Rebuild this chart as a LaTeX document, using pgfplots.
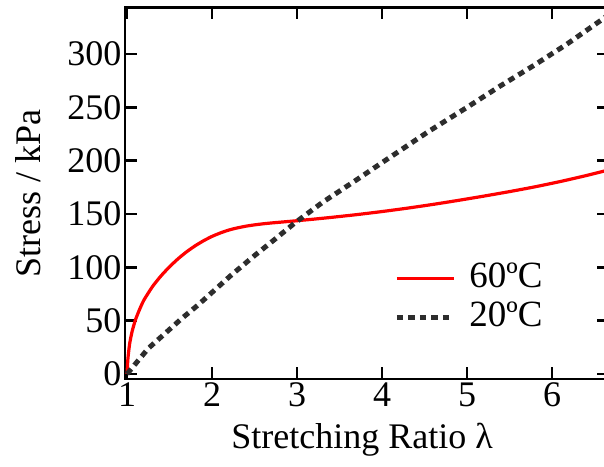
\documentclass[border=0pt]{standalone}
\usepackage{pgfplots}
\pgfplotsset{compat=1.18}
\usepackage{fontspec}
\setmainfont{Liberation Serif}
\definecolor{dotgray}{RGB}{45,45,45}
\begin{document}
\begin{tikzpicture}[x=1pt,y=1pt]
\begin{axis}[
  at={(0,0)}, anchor=south west,
  scale only axis, width=484pt, height=371.5pt,
  xmin=0.976, xmax=6.67, ymin=-4.7, ymax=343.6,
  xtick={1,2,3,4,5,6}, ytick={0,50,100,150,200,250,300},
  tick align=inside, major tick length=12pt,
  axis line style={line width=2.5pt},
  every tick/.style={black, line width=2.5pt},
  font=\fontsize{36}{42}\selectfont,
  /pgf/number format/assume math mode=true,
  xlabel={Stretching Ratio λ}, ylabel={Stress / kPa},
  xlabel style={at={(axis description cs:0.49,0)}, anchor=base, yshift=-69pt},
  ylabel style={at={(axis description cs:-0.200,0.5)}, anchor=center, rotate=0},
  legend style={draw=none, fill=none, at={(axis cs:4.143,106)}, anchor=north west, inner sep=0pt, row sep=9pt, column sep=11pt, font=\fontsize{37}{42}\selectfont},
  legend cell align=left,
  legend image code/.code={\draw[#1] (0pt,-2pt) -- (57pt,-2pt);},
]
\addplot[red, line width=3.2pt, line join=round, smooth, tension=0.4] coordinates {
(1.00,0) (1.01,14) (1.03,28) (1.06,40) (1.10,51) (1.15,61) (1.20,69.5) (1.30,82) (1.40,92) (1.50,100.5) (1.60,108) (1.70,114.5) (1.80,120.1) (1.90,124.9) (2.00,129) (2.10,132.3) (2.20,135.0) (2.30,137.0) (2.40,138.6) (2.50,139.8) (2.60,140.8) (2.70,141.6) (2.80,142.3) (2.90,143.0) (3.00,143.7) (3.20,145.2) (3.40,146.8) (3.70,149.4) (4.00,152.3) (4.30,155.5) (4.60,159) (4.90,162.8) (5.20,166.8) (5.50,171) (5.80,175.5) (6.10,180.5) (6.40,186) (6.70,192)
};
\addlegendentry{60ºC}
\addplot[dotgray, line width=5pt, dash pattern=on 6.5pt off 5pt] coordinates {
(1.0,0) (1.25,24) (1.447,38) (1.643,52) (1.84,65) (2.035,79) (2.23,93) (2.5,111) (2.75,127) (2.98,142) (3.31,161.5) (3.70,182) (4.09,203) (4.56,228) (5.0,250) (5.39,270) (5.78,289) (6.17,309) (6.6,333) (6.7,339)
};
\addlegendentry{20ºC}
\end{axis}
\pgfresetboundingbox
\useasboundingbox (-125,-87) rectangle (479,379);
\end{tikzpicture}
\end{document}
